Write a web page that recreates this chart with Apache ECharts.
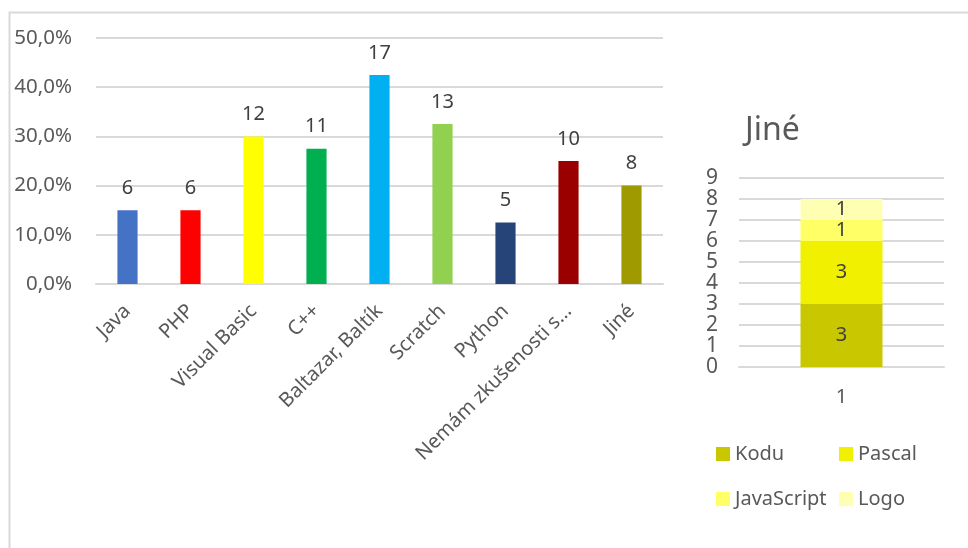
<!DOCTYPE html>
<html>
<head>
<meta charset="utf-8">
<script src="https://cdn.jsdelivr.net/npm/echarts@6/dist/echarts.min.js"></script>
<style>html,body{margin:0;padding:0;background:#fff}#c{width:968px;height:548px}</style>
</head>
<body>
<div id="c"></div>
<script>
var categories = ['Java', 'PHP', 'Visual Basic', 'C++', 'Baltazar, Baltík', 'Scratch', 'Python', 'Nemám zkušenosti s…', 'Jiné'];
var percentages = [15, 15, 30, 27.5, 42.5, 32.5, 12.5, 25, 20];
var counts = [6, 6, 12, 11, 17, 13, 5, 10, 8];
var barColors = ['#4472C4', '#FF0000', '#FFFF00', '#00B050', '#00B0F0', '#92D050', '#264478', '#9A0000', '#9E9A00'];
var yTicks = [0, 10, 20, 30, 40, 50];

var otherTitle = 'Jiné';
var otherCategories = ['1'];
var otherNames = ['Kodu', 'Pascal', 'JavaScript', 'Logo'];
var otherValues = [3, 3, 1, 1];
var otherColors = ['#C9C700', '#F0F000', '#FFFF66', '#FFFFB3'];

var FONT = 'Noto Sans';
var TXT = '#595959';
var GRID = '#D9D9D9';

var chart = echarts.init(document.getElementById('c'), null, {renderer: 'canvas'});

var series = [{
  type: 'bar',
  xAxisIndex: 0, yAxisIndex: 0,
  barWidth: '32%',
  data: percentages.map(function (v, i) {
    return {value: v, itemStyle: {color: barColors[i]}, label: {formatter: String(counts[i])}};
  }),
  label: {show: true, position: 'top', distance: 12, color: '#404040', fontSize: 20, fontFamily: FONT},
  silent: true
}];

var legends = [];
var legendPos = [[716, 444], [839, 444], [716, 489], [839, 489]];
otherNames.forEach(function (n, i) {
  series.push({
    type: 'bar', name: n, stack: 'jine',
    xAxisIndex: 1, yAxisIndex: 1,
    barWidth: '40%',
    itemStyle: {color: otherColors[i]},
    data: [otherValues[i]],
    label: {show: true, position: 'inside', color: '#404040', fontSize: 20, fontFamily: FONT}
  });
  legends.push({
    data: [n], left: legendPos[i][0], top: legendPos[i][1], padding: 0,
    itemWidth: 14, itemHeight: 14, icon: 'rect', itemGap: 0,
    textStyle: {color: TXT, fontSize: 20, fontFamily: FONT},
    selectedMode: false
  });
});

chart.setOption({
  animation: false,
  graphic: [{
    type: 'rect', shape: {x: 9.5, y: 12.5, width: 1000, height: 600},
    style: {fill: 'none', stroke: GRID, lineWidth: 2}, silent: true
  }],
  title: {
    text: otherTitle, left: 740, top: 110,
    textStyle: {color: TXT, fontSize: 32, fontWeight: 'normal', fontFamily: FONT}
  },
  legend: legends,
  grid: [
    {left: 96, right: 305, top: 38, bottom: 264},
    {left: 739, right: 24, top: 178, bottom: 181}
  ],
  xAxis: [{
    type: 'category', gridIndex: 0, data: categories,
    axisLine: {lineStyle: {color: GRID, width: 2}},
    axisTick: {show: false},
    axisLabel: {rotate: 45, margin: 24, color: TXT, fontSize: 20, fontFamily: FONT, interval: 0}
  }, {
    type: 'category', gridIndex: 1, data: otherCategories,
    axisLine: {lineStyle: {color: GRID, width: 2}},
    axisTick: {show: false},
    axisLabel: {margin: 20, color: TXT, fontSize: 20, fontFamily: FONT}
  }],
  yAxis: [{
    type: 'value', gridIndex: 0, min: yTicks[0], max: yTicks[yTicks.length - 1], interval: 10,
    axisLine: {show: false}, axisTick: {show: false},
    splitLine: {lineStyle: {color: GRID, width: 2}},
    axisLabel: {margin: 24, color: TXT, fontSize: 20.5, fontFamily: FONT,
      formatter: function (v) { return v.toFixed(1).replace('.', ',') + '%'; }}
  }, {
    type: 'value', gridIndex: 1, min: 0, max: 9, interval: 1,
    axisLine: {show: false}, axisTick: {show: false},
    splitLine: {lineStyle: {color: GRID, width: 2}},
    axisLabel: {margin: 21, color: TXT, fontSize: 21, fontFamily: FONT}
  }],
  series: series
});
</script>
</body>
</html>
